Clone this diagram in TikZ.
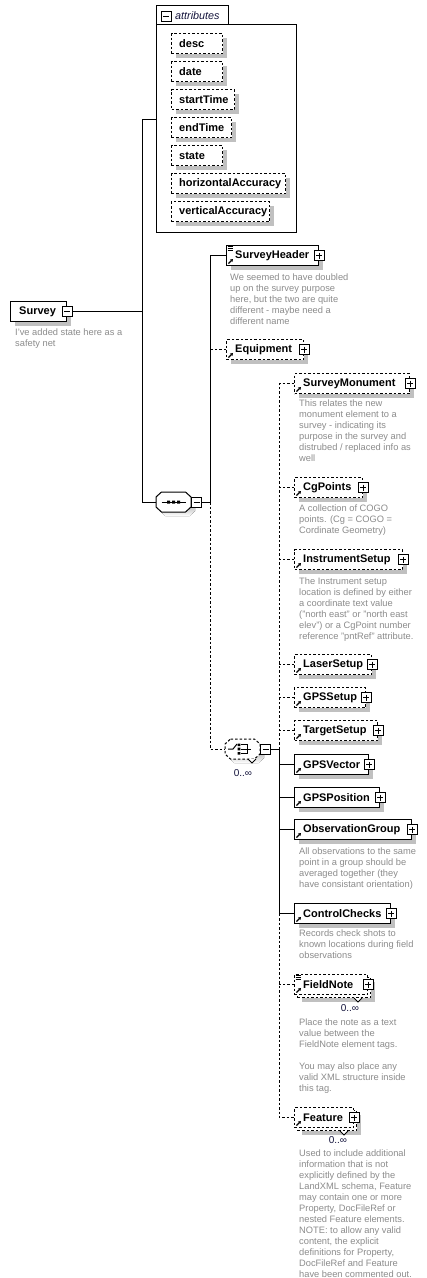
\documentclass[tikz,border=0pt]{standalone}
\usepackage{fontspec}
\setmainfont{Liberation Sans}
\usetikzlibrary{arrows.meta,shadows}
\definecolor{shade}{RGB}{192,192,192}
\definecolor{desccol}{RGB}{140,140,140}
\definecolor{multcol}{RGB}{20,20,60}
\tikzset{
  elboxns/.style={draw, fill=white, line width=1pt, minimum height=20pt, inner sep=0pt},
  elbox/.style={elboxns, drop shadow={shadow xshift=4pt, shadow yshift=-4pt, fill=shade, opacity=1}},
  optl/.style={dash pattern=on 2.5pt off 2pt},
  conn/.style={line width=1pt},
  lab/.style={font=\fontsize{11}{12}\selectfont\bfseries, inner sep=0pt, anchor=west},
  desc/.style={font=\fontsize{9.3}{11}\selectfont, text=desccol, align=left, inner sep=0pt, anchor=north west},
  mult/.style={font=\fontsize{10}{12}\selectfont, text=multcol, inner sep=0pt},
  pmbox/.style={draw, fill=white, line width=.8pt, minimum size=10pt, inner sep=0pt},
  plus/.style={pmbox, path picture={\draw[line width=.8pt]
      ([xshift=2pt]path picture bounding box.west) -- ([xshift=-2pt]path picture bounding box.east)
      ([yshift=-2pt]path picture bounding box.north) -- ([yshift=2pt]path picture bounding box.south);}},
  minus/.style={pmbox, path picture={\draw[line width=.8pt]
      ([xshift=2pt]path picture bounding box.west) -- ([xshift=-2pt]path picture bounding box.east);}},
  refarr/.style={line width=1.1pt, -{Triangle[length=2.6pt,width=3.2pt]}},
}
% element: name, x, ytop, width, border style, label
\newcommand\elem[6]{%
  \node[elbox,#5,minimum width=#4pt,anchor=north west] (#1) at (#2,#3) {};
  \node[lab] (#1-l) at ([xshift=9pt]#1.west) {#6};
  \node[plus] (#1-pm) at (#1.east) {};
  \draw[refarr] ([shift={(2.5,-2.5)}]#1.south west) -- ++(4.5,-4.5);
}
% stacked (multiple) element
\newcommand\elemstack[6]{%
  \node[elbox,#5,minimum width=#4pt,anchor=north west] (#1-b) at (#2+3,#3+3) {};
  \node[elboxns,#5,minimum width=#4pt,anchor=north west] (#1) at (#2,#3) {};
  \draw[line width=.8pt, fill=white] ([shift={(-17,0)}]#1-b.south east) -- ++(4,4) -- ++(4,-4);
  \node[lab] (#1-l) at ([xshift=9pt]#1.west) {#6};
  \node[plus] (#1-pm) at (#1.east) {};
  \draw[refarr] ([shift={(2.5,-2.5)}]#1.south west) -- ++(4.5,-4.5);
}
\newcommand\docicon[1]{%
  \fill[white] ([shift={(0.5,0.5)}]#1.north west) rectangle ++(7,6);
  \draw[line width=.6pt] ([shift={(1.5,1.5)}]#1.north west) -- ++(5,0)
    ([shift={(1.5,3.5)}]#1.north west) -- ++(5,0)
    ([shift={(1.5,5.5)}]#1.north west) -- ++(5,0);
}
\newcommand\attr[4]{% name, ytop, width, label
  \node[elbox,optl,minimum width=#3pt,anchor=north west] (#1) at (171,#2) {};
  \node[lab] (#1-l) at ([xshift=8pt]#1.west) {#4};
}
\newcommand\octa{(-12,-10) -- (12,-10) -- (17.5,-5) -- (17.5,5) -- (12,10) -- (-12,10) -- (-17.5,5) -- (-17.5,-5) -- cycle}

\begin{document}
\begin{tikzpicture}[x=1pt,y=-1pt]
\clip (0,0) rectangle (427,1278);
\fill[white] (0,0) rectangle (427,1278);

% ---------- Survey ----------
\node[elbox,minimum width=56pt,anchor=north west] (survey) at (10,301) {};
\node[lab] (survey-l) at ([xshift=9pt]survey.west) {Survey};
\node[minus] (survey-pm) at (survey.east) {};
\node[desc] (survey-d) at (15,329) {I've added state here as a\\safety net};

% ---------- attributes ----------
\node[draw,line width=1pt,minimum width=140pt,minimum height=208pt,inner sep=0pt,anchor=north west] (attrbox) at (156,24) {};
\draw[line width=1pt] (attrbox.north west) -- (156,5) -- (228,5) -- (228,24);
\node[minus] (attr-pm) at (166,16) {};
\node[font=\fontsize{10.8}{12}\selectfont\itshape, text=multcol, inner sep=0pt, anchor=west] (attr-l) at (175,16) {attributes};
\attr{a1}{33}{51}{desc}
\attr{a2}{61}{51}{date}
\attr{a3}{89}{63}{startTime}
\attr{a4}{117}{60}{endTime}
\attr{a5}{145}{51}{state}
\attr{a6}{173}{114}{horizontalAccuracy}
\attr{a7}{201}{98}{verticalAccuracy}

% ---------- sequence ----------
\node[minimum width=35pt,minimum height=20pt,inner sep=0pt] (seq) at (173.5,502) {};
\fill[shade,shift={(177.5,506)}] \octa;
\draw[line width=1pt,fill=white,shift={(173.5,502)}] \octa;
\begin{scope}[shift={(173.5,502)}]
  \draw[line width=1pt] (-12,0) -- (12,0);
  \fill (-6.5,-1.5) rectangle (-3.5,1.5) (-1.5,-1.5) rectangle (1.5,1.5) (3.5,-1.5) rectangle (6.5,1.5);
\end{scope}
\node[minus,anchor=west] (seq-pm) at (seq.east) {};

% ---------- choice ----------
\node[minimum width=35pt,minimum height=20pt,inner sep=0pt] (cho) at (242.5,749) {};
\fill[shade,shift={(246.5,753)}] \octa;
\draw[line width=1pt,optl,fill=white,shift={(242.5,749)}] \octa;
\draw[line width=.8pt,fill=white] (248,759) -- (252,763) -- (256,759);
\begin{scope}[shift={(242.5,749)}]
  \draw[line width=1pt] (-14.5,0) -- (-9.5,0) -- (-5.5,-5);
  \fill (-4.8,-5.5) rectangle (-2.2,-3) (-4.8,-1.3) rectangle (-2.2,1.3) (-4.8,3) rectangle (-2.2,5.5);
  \draw[line width=1pt] (-2,-4.2) -- (5,-4.2) -- (5,4.2) -- (-2,4.2) (-2,0) -- (8,0);
\end{scope}
\node[minus,anchor=west] (cho-pm) at (cho.east) {};
\node[mult] (cho-m) at (243,773) {0..∞};

% ---------- sequence children ----------
\elem{sh}{226}{245}{92}{}{SurveyHeader}
\docicon{sh}
\node[desc] (sh-d) at (230,274) {We seemed to have doubled\\up on the survey purpose\\here, but the two are quite\\different - maybe need a\\different name};
\elem{eq}{226}{339}{77}{optl}{Equipment}

% ---------- choice children ----------
\elem{sm}{294}{373}{115}{optl}{SurveyMonument}
\node[desc] (sm-d) at (299,400) {This relates the new\\monument element to a\\survey - indicating its\\purpose in the survey and\\distrubed / replaced info as\\well};
\elem{cg}{294}{477}{68}{optl}{CgPoints}
\node[desc] (cg-d) at (299,505) {A collection of COGO\\points. (Cg = COGO =\\Cordinate Geometry)};
\elem{is}{294}{549}{108}{optl}{InstrumentSetup}
\node[desc] (is-d) at (299,578) {The Instrument setup\\location is defined by either\\a coordinate text value\\("north east" or "north east\\elev") or a CgPoint number\\reference "pntRef" attribute.};
\elem{ls}{294}{654}{77}{optl}{LaserSetup}
\elem{gs}{294}{687}{71}{optl}{GPSSetup}
\elem{ts}{294}{720}{83}{optl}{TargetSetup}
\elem{gv}{294}{754}{74}{}{GPSVector}
\elem{gp}{294}{787}{85}{}{GPSPosition}
\elem{og}{294}{819}{117}{}{ObservationGroup}
\node[desc] (og-d) at (299,848) {All observations to the same\\point in a group should be\\averaged together (they\\have consistant orientation)};
\elem{cc}{294}{903}{96}{}{ControlChecks}
\node[desc] (cc-d) at (299,930) {Records check shots to\\known locations during field\\observations};
\elemstack{fn}{294}{974}{73}{optl}{FieldNote}
\docicon{fn}
\node[mult] (fn-m) at (350,1008) {0..∞};
\node[desc] (fn-d) at (299,1019) {Place the note as a text\\value between the\\FieldNote element tags.\\[11pt]You may also place any\\valid XML structure inside\\this tag.};
\elemstack{ft}{294}{1107}{59}{optl}{Feature}
\node[mult] (ft-m) at (338,1140) {0..∞};
\node[desc] (ft-d) at (299,1150) {Used to include additional\\information that is not\\explicitly defined by the\\LandXML schema, Feature\\may contain one or more\\Property, DocFileRef or\\nested Feature elements.\\NOTE: to allow any valid\\content, the explicit\\definitions for Property,\\DocFileRef and Feature\\have been commented out.};

% ---------- connectors ----------
\coordinate (A1) at (142,119);
\coordinate (A2) at (142,502);
\draw[conn] (attrbox.west |- A1) -- (A1) -- (A2) -- (seq.west);
\draw[conn] (survey-pm.east) -- (survey-pm.east -| A1);

\coordinate (B) at (210,502);
\draw[conn] (sh.west) -- (sh.west -| B) -- (B) -- (seq-pm.east);
\draw[conn,optl] (eq.west) -- (eq.west -| B);
\draw[conn,optl] (B) -- (B |- cho.west) -- (cho.west);

\coordinate (C) at (279,749);
\draw[conn] (cho-pm.east) -- (C);
\draw[conn,optl] (C) -- (C |- sm.west) -- (sm.west);
\foreach \n in {cg,is,ls,gs,ts} \draw[conn,optl] (\n.west) -- (\n.west -| C);
\draw[conn] (C) -- (C |- cc.west) -- (cc.west);
\foreach \n in {gv,gp,og} \draw[conn] (\n.west) -- (\n.west -| C);
\draw[conn,optl] (C |- cc.west) -- (C |- ft.west) -- (ft.west);
\draw[conn,optl] (fn.west) -- (fn.west -| C);
\end{tikzpicture}
\end{document}
